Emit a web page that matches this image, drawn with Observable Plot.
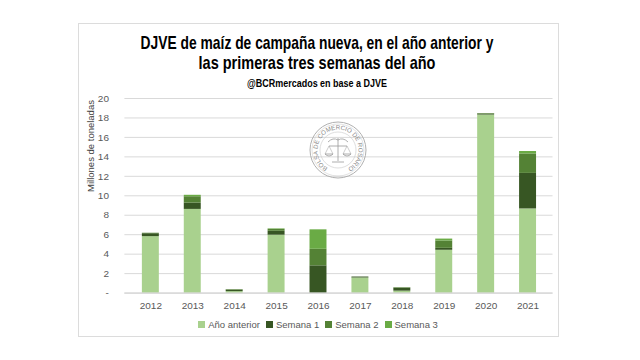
<!DOCTYPE html>
<html>
<head>
<meta charset="utf-8">
<script src="https://cdn.jsdelivr.net/npm/d3@7"></script>
<script src="https://cdn.jsdelivr.net/npm/@observablehq/plot@0.6"></script>
<style>
  html, body { margin: 0; padding: 0; background: #fff; }
  #page { position: relative; width: 640px; height: 360px; overflow: hidden; background: #fff; }
  #card { position: absolute; left: 78px; top: 23px; width: 479px; height: 312px; border: 1px solid #dcdcdc; background: #fff; }
  #head { position: absolute; left: 0; top: 0; overflow: visible; }
  #ylab { position: absolute; left: 12px; top: 122px; transform-origin: 50% 50%; transform: translate(-50%, -50%) rotate(-90deg); font-family: "Liberation Sans", sans-serif; font-size: 9.5px; line-height: 10px; color: #404040; white-space: nowrap; }
  #chart { position: absolute; left: 0; top: 67px; }
  #legend { position: absolute; left: 0; width: 478px; top: 295px; text-align: center; font-family: "Liberation Sans", sans-serif; font-size: 9.5px; color: #595959; white-space: nowrap; }
  #legend span.item { display: inline-block; margin: 0 3px; }
  #legend span.sw { display: inline-block; width: 7px; height: 7px; margin-right: 3px; vertical-align: 0px; }
  #seal { position: absolute; left: 0; top: 0; pointer-events: none; }
</style>
</head>
<body>
<div id="page">
  <div id="card">
    <div id="chart"></div>
    <div id="ylab">Millones de toneladas</div>
    <div id="legend"></div>
  </div>
</div>
<script>
const years = ["2012","2013","2014","2015","2016","2017","2018","2019","2020","2021"];
const seriesNames = ["Año anterior","Semana 1","Semana 2","Semana 3"];
const seriesColors = ["#a9d18e","#375623","#548235","#6aab45"];
const anoAnterior = [5.8, 8.6, 0.15, 5.95, 0.0, 1.55, 0.2, 4.4, 18.3, 8.65];
const semana1     = [0.3, 0.65, 0.15, 0.4, 2.8, 0.1, 0.3, 0.2, 0.1, 3.65];
const semana2     = [0.05, 0.65, 0.05, 0.2, 1.7, 0.0, 0.05, 0.75, 0.05, 2.0];
const semana3     = [0.0, 0.15, 0.0, 0.05, 2.0, 0.0, 0.0, 0.2, 0.0, 0.25];
const yTicks = [0,2,4,6,8,10,12,14,16,18,20];
const titleLines = ["DJVE de maíz de campaña nueva, en el año anterior y", "las primeras tres semanas del año"];
const subtitle = "@BCRmercados en base a DJVE";

// header (condensed bold title, as in the reference)
const head = d3.select("#card").append("svg").attr("id","head").attr("width",479).attr("height",70);
const hx = 238;
[[titleLines[0], 25, 353, 17.5], [titleLines[1], 45, 237, 17.5], [subtitle, 63, 140, 10]].forEach(([t, y, w, fs]) => {
  const txt = head.append("text").attr("x", 0).attr("y", 0).attr("text-anchor","middle")
    .attr("font-family","Liberation Sans, Arial, sans-serif").attr("font-weight","bold")
    .attr("font-size", fs).attr("fill","#000").text(t);
  const natural = txt.node().getComputedTextLength();
  txt.attr("transform", `translate(${hx},${y}) scale(${(w / natural).toFixed(4)},1)`);
});

const seriesValues = [anoAnterior, semana1, semana2, semana3];
const data = [];
years.forEach((yr, i) => {
  seriesNames.forEach((s, j) => data.push({year: yr, series: s, value: seriesValues[j][i]}));
});

const chart = Plot.plot({
  width: 480,
  height: 225,
  marginTop: 7,
  marginBottom: 23,
  marginLeft: 45.5,
  marginRight: 5.5,
  style: { fontFamily: "Liberation Sans, sans-serif", fontSize: "10px", color: "#595959", background: "transparent" },
  x: { domain: years, paddingInner: 0.6, paddingOuter: 0.3, label: null, tickSize: 0, tickPadding: 9 },
  y: { domain: [0, 20], ticks: yTicks, label: null, tickSize: 0, tickPadding: 16, tickFormat: d => d === 0 ? "-" : d },
  color: { domain: seriesNames, range: seriesColors },
  marks: [
    Plot.gridY(yTicks, { stroke: "#d9d9d9", strokeOpacity: 1 }),
    Plot.barY(data, { x: "year", y: "value", fill: "series" }),
    Plot.ruleY([0], { stroke: "#d0d0d0" })
  ]
});
document.getElementById("chart").appendChild(chart);

// legend
const leg = document.getElementById("legend");
seriesNames.forEach((s, j) => {
  const it = document.createElement("span");
  it.className = "item";
  it.innerHTML = `<span class="sw" style="background:${seriesColors[j]}"></span>${s}`;
  leg.appendChild(it);
});

// watermark seal
const seal = d3.select("#card").append("svg").attr("id","seal").attr("width",479).attr("height",312);
const cx = 259, cy = 126, r = 28;
seal.append("circle").attr("cx",cx).attr("cy",cy).attr("r",r).attr("fill","none").attr("stroke","#b0b0b0").attr("stroke-width",1);
seal.append("circle").attr("cx",cx).attr("cy",cy).attr("r",r-2).attr("fill","none").attr("stroke","#d0d0d0").attr("stroke-width",0.6);
seal.append("circle").attr("cx",cx).attr("cy",cy).attr("r",18).attr("fill","none").attr("stroke","#c8c8c8").attr("stroke-width",0.6);
const rr = 20.5, half = 150 * Math.PI / 180;
const p0 = [cx - rr * Math.sin(half), cy - rr * Math.cos(half)];
const p1 = [cx + rr * Math.sin(half), cy - rr * Math.cos(half)];
seal.append("path").attr("id","sealpath").attr("fill","none")
  .attr("d", `M ${p0[0]} ${p0[1]} A ${rr} ${rr} 0 1 1 ${p1[0]} ${p1[1]}`);
seal.append("text").attr("font-family","Liberation Sans, sans-serif").attr("font-size",6.3).attr("fill","#8a8a8a")
  .append("textPath").attr("href","#sealpath")
  .attr("textLength", (rr * 2 * half).toFixed(1)).attr("lengthAdjust","spacingAndGlyphs")
  .text("BOLSA DE COMERCIO DE ROSARIO");
// scales emblem (simple)
const g = seal.append("g").attr("stroke","#9a9a9a").attr("fill","none").attr("stroke-width",0.8);
g.append("line").attr("x1",cx).attr("x2",cx).attr("y1",cy-12).attr("y2",cy+11);
g.append("path").attr("d",`M ${cx-10} ${cy-8} Q ${cx-5} ${cy-13} ${cx} ${cy-10} Q ${cx+5} ${cy-13} ${cx+10} ${cy-8}`);
g.append("line").attr("x1",cx-9).attr("x2",cx+9).attr("y1",cy-4).attr("y2",cy-4);
g.append("path").attr("d",`M ${cx-13} ${cy+4} Q ${cx-9} ${cy+8} ${cx-5} ${cy+4} Z M ${cx+5} ${cy+4} Q ${cx+9} ${cy+8} ${cx+13} ${cy+4} Z`);
g.append("path").attr("stroke-width",0.5).attr("d",`M ${cx-9} ${cy-4} L ${cx-13} ${cy+4} M ${cx-9} ${cy-4} L ${cx-5} ${cy+4} M ${cx+9} ${cy-4} L ${cx+5} ${cy+4} M ${cx+9} ${cy-4} L ${cx+13} ${cy+4}`);
g.append("path").attr("d",`M ${cx-6} ${cy+12} L ${cx+6} ${cy+12}`);
</script>
</body>
</html>
